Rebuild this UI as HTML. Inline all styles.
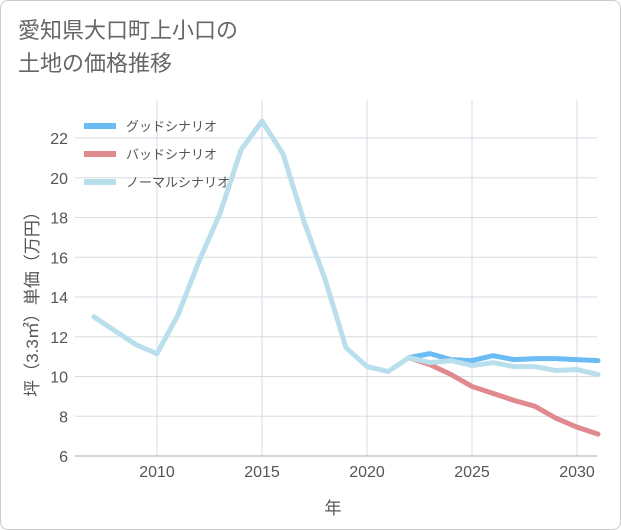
<!DOCTYPE html>
<html><head><meta charset="utf-8"><style>
body{margin:0;background:#fff;font-family:"Liberation Sans","Noto Sans CJK JP",sans-serif;}
#card{position:absolute;left:0;top:0;width:619px;height:528px;border:1px solid #ccc;border-radius:8px;background:#fff;}
#title{position:absolute;left:18px;top:14px;font-size:22px;line-height:33px;color:#666;}
svg{position:absolute;left:0;top:0;}
</style></head><body>
<div id="card"></div>
<div id="title">愛知県大口町上小口の<br>土地の価格推移</div>
<svg id="chart" width="621" height="530"></svg>
<script>
const years=[2007,2008,2009,2010,2011,2012,2013,2014,2015,2016,2017,2018,2019,2020,2021,2022,2023,2024,2025,2026,2027,2028,2029,2030,2031];
const normalVals=[13.0,12.3,11.6,11.15,13.1,15.8,18.2,21.4,22.85,21.2,17.8,14.9,11.45,10.5,10.25,10.95,10.7,10.8,10.55,10.7,10.5,10.5,10.3,10.35,10.1];
const goodYears=[2022,2023,2024,2025,2026,2027,2028,2029,2030,2031];
const goodVals=[10.95,11.15,10.85,10.8,11.05,10.85,10.9,10.9,10.85,10.8];
const badVals=[10.95,10.6,10.1,9.5,9.15,8.8,8.5,7.9,7.45,7.1];
const xTicks=[2010,2015,2020,2025,2030];
const yTicks=[6,8,10,12,14,16,18,20,22];
const L=75,R=597,T=100,B=456;
const x=v=>157+(v-2010)*21;
const y=v=>456-(v-6)*19.875;
const svg=document.getElementById('chart');
const NS='http://www.w3.org/2000/svg';
function mk(t,a){const e=document.createElementNS(NS,t);for(const k in a)e.setAttribute(k,a[k]);svg.appendChild(e);return e;}
const bg=mk('rect',{x:L,y:T,width:R-L,height:B-T,fill:'#fff'});


for(const t of yTicks){
 const g=mk('line',{x1:L,x2:R,y1:y(t),y2:y(t),stroke:'#d5dde5','stroke-width':1});
 
 
 const tx=mk('text',{x:68,y:y(t)+6,'text-anchor':'end','font-size':16,fill:'#555'});tx.textContent=t;
 
 
}
for(const t of xTicks){
 const g=mk('line',{x1:x(t),x2:x(t),y1:T,y2:B,stroke:'#d5dde5','stroke-width':1});
 
 
 const tx=mk('text',{x:x(t),y:477,'text-anchor':'middle','font-size':16,fill:'#555'});tx.textContent=t;
 
 
}
const ax=mk('line',{x1:L,x2:R,y1:B,y2:B,stroke:'#aab','stroke-width':1});


const xt=mk('text',{x:333,y:514,'text-anchor':'middle','font-size':17,fill:'#555'});xt.textContent='年';


const yt=mk('text',{x:0,y:0,'text-anchor':'middle','font-size':17,fill:'#555',transform:'translate(38,300) rotate(-90)'});yt.textContent='坪（3.3㎡）単価（万円）';


function line(xs,vs,c,n){
 const p=mk('polyline',{points:xs.map((v,i)=>x(v)+','+y(vs[i])).join(' '),fill:'none',stroke:c,'stroke-width':5,'stroke-linejoin':'round','stroke-linecap':'round'});
 
 
}
line(goodYears,goodVals,'#6bbcf3','good-scenario-line');
line(goodYears,badVals,'#e08a90','bad-scenario-line');
line(years,normalVals,'#b9dfec','normal-scenario-line');
const leg=[['グッドシナリオ','#6bbcf3'],['バッドシナリオ','#e08a90'],['ノーマルシナリオ','#b9dfec']];
leg.forEach((l,i)=>{
 const yy=126+i*28;
 const s=mk('line',{x1:84,x2:116,y1:yy,y2:yy,stroke:l[1],'stroke-width':6});
 
 
 const t=mk('text',{x:126,y:yy+5,'font-size':13,fill:'#555'});t.textContent=l[0];
 
 
});
</script>
</body></html>
